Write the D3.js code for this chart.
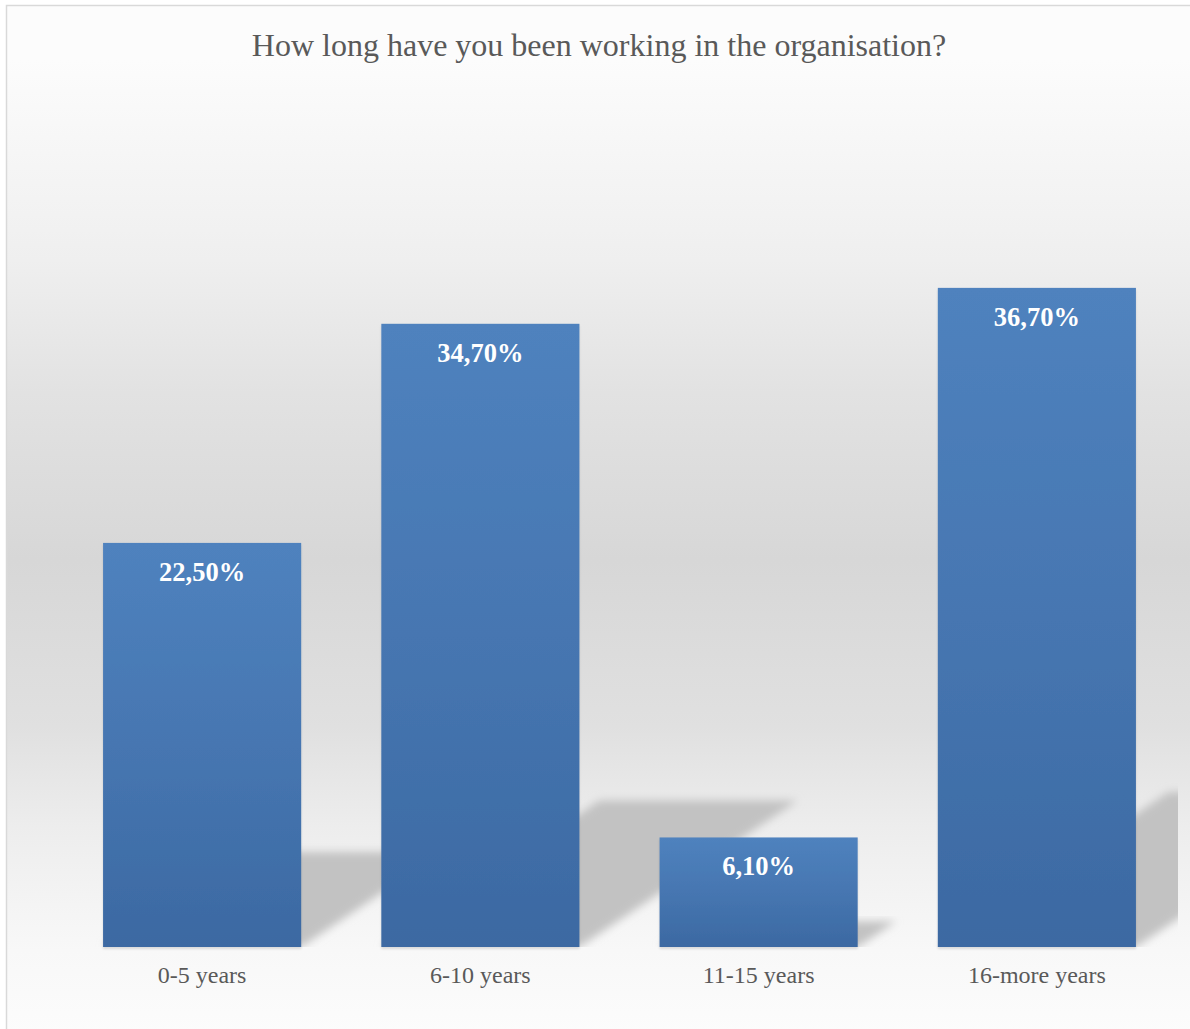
<!DOCTYPE html>
<html>
<head>
<meta charset="utf-8">
<script src="https://cdn.jsdelivr.net/npm/d3@7"></script>
<style>
  html, body { margin: 0; padding: 0; background: #ffffff; }
  svg { display: block; }
</style>
</head>
<body>
<svg id="chart" width="1190" height="1029"></svg>
<script>
// Survey answers: tenure in the organisation
const categories = ["0-5 years", "6-10 years", "11-15 years", "16-more years"];
const shares = [22.5, 34.7, 6.1, 36.7];
const chartTitle = "How long have you been working in the organisation?";

const W = 1190, H = 1029;
const svg = d3.select("#chart");
const defs = svg.append("defs");

// Chart background: soft white → grey → white vertical gradient
const bg = defs.append("linearGradient")
  .attr("id", "bgGrad").attr("gradientUnits", "userSpaceOnUse")
  .attr("x1", 0).attr("y1", 6).attr("x2", 0).attr("y2", 1035);
[[60, "#fcfcfc"], [260, "#efefef"], [393, "#e2e2e2"], [560, "#d7d7d7"],
 [727, "#e0e0e0"], [827, "#ededed"], [950, "#f8f8f8"], [1035, "#fcfcfc"]]
  .forEach(([y, c]) => bg.append("stop")
    .attr("offset", ((y - 6) / 1029).toFixed(4)).attr("stop-color", c));

// Bar fill: lighter blue at the top, deeper blue at the base
const barGrad = defs.append("linearGradient")
  .attr("id", "barGrad").attr("x1", 0).attr("y1", 0).attr("x2", 0).attr("y2", 1);
barGrad.append("stop").attr("offset", 0).attr("stop-color", "#4f82be");
barGrad.append("stop").attr("offset", 0.5).attr("stop-color", "#4676b1");
barGrad.append("stop").attr("offset", 1).attr("stop-color", "#3c69a2");

const blur = defs.append("filter").attr("id", "shadowBlur")
  .attr("x", "-20%").attr("y", "-20%").attr("width", "140%").attr("height", "140%");
blur.append("feGaussianBlur").attr("stdDeviation", 4);

const baseShadow = defs.append("filter").attr("id", "baseShadow")
  .attr("x", "-5%").attr("y", "-5%").attr("width", "110%").attr("height", "115%");
baseShadow.append("feDropShadow").attr("dx", 0).attr("dy", 2)
  .attr("stdDeviation", 1).attr("flood-color", "#000").attr("flood-opacity", 0.12);

// Frame
svg.append("rect").attr("x", 6.5).attr("y", 5.5)
  .attr("width", W + 20).attr("height", H + 20)
  .attr("fill", "url(#bgGrad)")
  .attr("stroke", "#d9d9d9").attr("stroke-width", 1.5);

// Title
svg.append("text")
  .attr("x", 599).attr("y", 56)
  .attr("text-anchor", "middle")
  .attr("font-family", "'Liberation Serif', 'Times New Roman', serif")
  .attr("font-size", 32)
  .attr("fill", "#595959")
  .text(chartTitle);

// Scales
const plot = { left: 63, right: 1176, base: 947 };
const x = d3.scaleBand()
  .domain(categories)
  .range([plot.left, plot.right])
  .paddingInner(0.288)
  .paddingOuter(0.144);
const y = d3.scaleLinear().domain([0, 40]).range([plot.base, 228.6]);

defs.append("clipPath").attr("id", "plotClip")
  .append("rect").attr("x", plot.left).attr("y", 60)
  .attr("width", 1178 - plot.left).attr("height", plot.base - 60);

const data = categories.map((c, i) => ({ cat: c, v: shares[i] }));

// Perspective shadows cast up and to the right behind each bar
const shadowG = svg.append("g").attr("clip-path", "url(#plotClip)");
shadowG.selectAll("path").data(data).join("path")
  .attr("d", d => {
    const x0 = x(d.cat), x1 = x0 + x.bandwidth();
    const h = y(0) - y(d.v);
    const sh = 0.235 * h, dx = 0.35 * h;
    const yb = y(0);
    return `M${x0},${yb}L${x1},${yb}L${x1 + dx},${yb - sh}L${x0 + dx},${yb - sh}Z`;
  })
  .attr("fill", "#c2c2c2")
  .attr("filter", "url(#shadowBlur)");

// Bars
svg.append("g").selectAll("rect").data(data).join("rect")
  .attr("x", d => x(d.cat))
  .attr("y", d => y(d.v))
  .attr("width", x.bandwidth())
  .attr("height", d => y(0) - y(d.v))
  .attr("fill", "url(#barGrad)")
  .attr("filter", "url(#baseShadow)");

// Value labels inside the top of each bar
const locale = d3.formatLocale({ decimal: ",", thousands: ".", grouping: [3], currency: ["", ""] });
const fmt = locale.format(".2f");
svg.append("g").selectAll("text").data(data).join("text")
  .attr("x", d => x(d.cat) + x.bandwidth() / 2)
  .attr("y", d => y(d.v) + 38)
  .attr("text-anchor", "middle")
  .attr("font-family", "'Liberation Serif', 'Times New Roman', serif")
  .attr("font-weight", "bold")
  .attr("font-size", 26.5)
  .attr("fill", "#ffffff")
  .text(d => fmt(d.v) + "%");

// Category axis
const axis = svg.append("g")
  .attr("transform", `translate(0,${plot.base})`)
  .call(d3.axisBottom(x).tickSize(0).tickPadding(36));
axis.select(".domain").remove();
axis.selectAll("text")
  .attr("font-family", "'Liberation Serif', 'Times New Roman', serif")
  .attr("font-size", 24)
  .attr("fill", "#595959")
  .attr("dy", 0);
</script>
</body>
</html>
